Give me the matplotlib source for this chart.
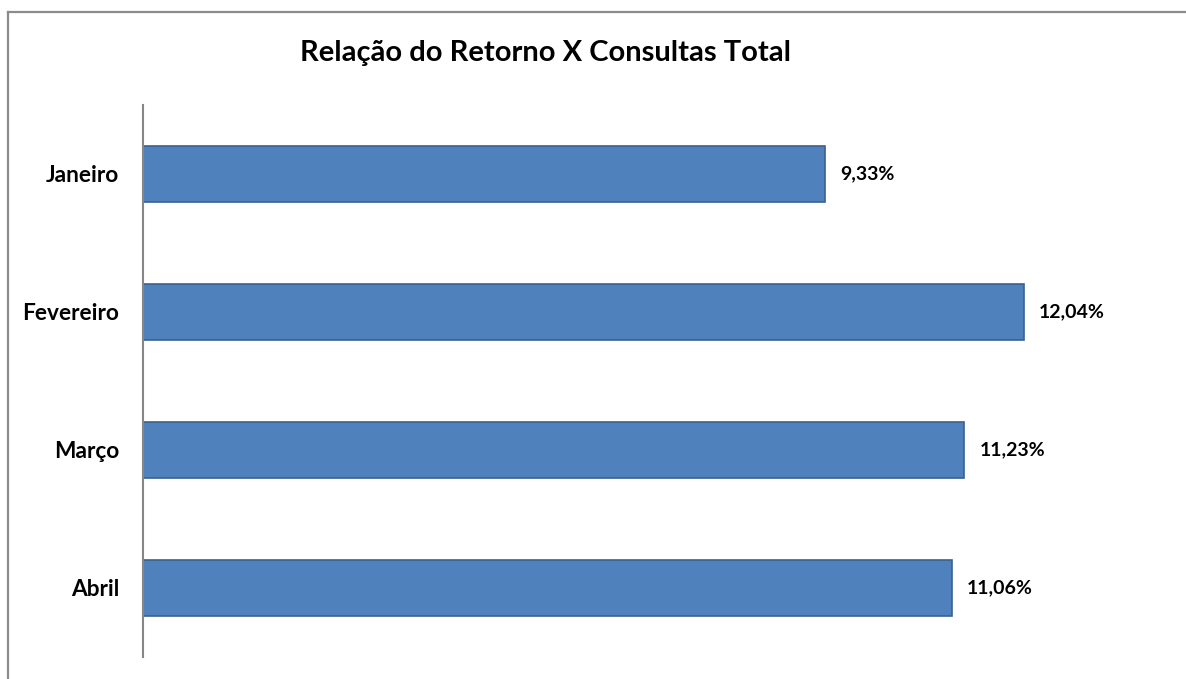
import matplotlib
matplotlib.use("Agg")
import matplotlib.pyplot as plt
from matplotlib.lines import Line2D

categories = ["Janeiro", "Fevereiro", "Março", "Abril"]
values = [9.33, 12.04, 11.23, 11.06]
value_labels = ["9,33%", "12,04%", "11,23%", "11,06%"]
title = "Relação do Retorno X Consultas Total"

W, H = 1186, 679
fig = plt.figure(figsize=(W / 100, H / 100), dpi=100)
fig.patch.set_facecolor("white")

plt.rcParams['font.family'] = ['Lato', 'DejaVu Sans']

left_px, right_px, top_px, bottom_px = 143, 1167, 105, 657
ax = fig.add_axes([left_px / W, 1 - bottom_px / H, (right_px - left_px) / W, (bottom_px - top_px) / H])

y = list(range(len(categories)))
ax.barh(y, values, height=0.4, color="#4F81BD", edgecolor="#3A6190", linewidth=1.2)
ax.set_ylim(len(categories) - 0.5, -0.5)
ax.set_xlim(0, 14)

for yi, v, lab in zip(y, values, value_labels):
    ax.annotate(lab, (v, yi), xytext=(15, 0), textcoords="offset pixels",
                ha="left", va="center", fontsize=14, fontweight="bold", color="black")

ax.set_yticks(y)
ax.set_yticklabels(categories, fontsize=16.3, fontweight="bold")
ax.tick_params(axis="y", length=0, pad=17)
ax.set_xticks([])
for s in ["top", "right", "bottom"]:
    ax.spines[s].set_visible(False)
ax.spines["left"].set_color("#868686")
ax.spines["left"].set_linewidth(1.5)

fig.text(545 / W, 1 - 53 / H, title, ha="center", va="center", fontsize=21, fontweight="bold")

# outer frame (top and left edges visible)
fig.add_artist(Line2D([7.5 / W, 1.0], [1 - 11.5 / H, 1 - 11.5 / H], color="#8C8C8C", linewidth=1.6, transform=fig.transFigure))
fig.add_artist(Line2D([7.5 / W, 7.5 / W], [1 - 11.5 / H, 0], color="#8C8C8C", linewidth=1.6, transform=fig.transFigure))

fig.savefig("out.png", dpi=100, facecolor="white")
